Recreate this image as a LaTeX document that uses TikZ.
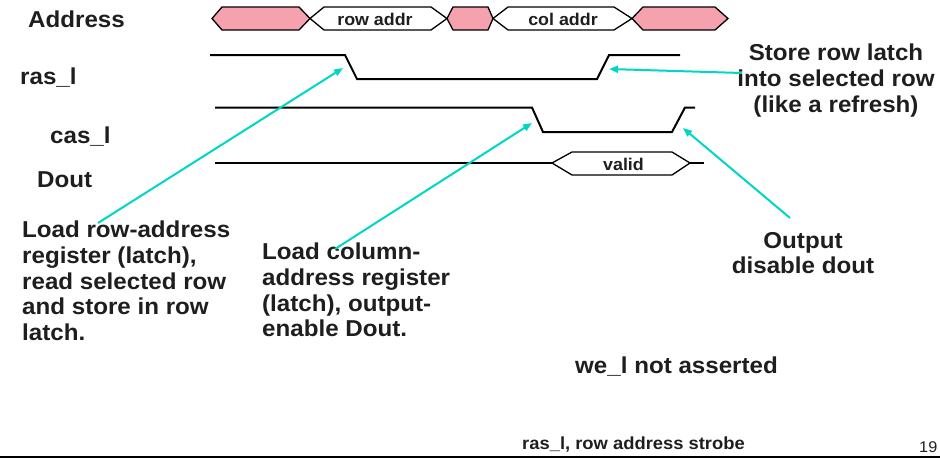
\documentclass[tikz,border=0pt]{standalone}
\usepackage{fontspec}
\setmainfont{Liberation Sans}[FakeStretch=1.05]
\usetikzlibrary{arrows.meta}
\definecolor{busfill}{RGB}{246,162,174}
\definecolor{callout}{RGB}{0,214,196}
\definecolor{ink}{RGB}{30,30,30}
\tikzset{
  sigline/.style={line width=2pt, line join=miter},
  busseg/.style={draw=black, line width=1.3pt, line join=miter, fill=white},
  busgap/.style={busseg, fill=busfill},
  lbl/.style={inner sep=0pt, text=ink, font=\fontsize{23}{25.7}\selectfont\bfseries},
  buslbl/.style={inner sep=0pt, text=ink, font=\fontsize{17}{18}\selectfont\bfseries},
  note/.style={lbl, anchor=north west, align=left},
  cnote/.style={lbl, anchor=north, align=center},
  footlbl/.style={inner sep=0pt, text=ink, anchor=base west},
  callarrow/.style={draw=callout, line width=2pt, -{Triangle[length=9pt,width=7pt]}},
}
\begin{document}
\begin{tikzpicture}[x=1pt, y=-1pt]
\useasboundingbox (0,0) rectangle (940,458);

% signal names
\node[lbl, anchor=base west] (addrlbl) at (28,27) {Address};
\node[lbl, anchor=base west] (raslbl) at (20,84) {ras\_l};
\node[lbl, anchor=base west] (caslbl) at (50,143) {cas\_l};
\node[lbl, anchor=base west] (doutlbl) at (37,187) {Dout};

% address bus
\draw[busgap] (212,18.5) -- (222,7) -- (299,7) -- (310,18.5) -- (299,30) -- (222,30) -- cycle;
\draw[busseg] (310,18.5) -- (324,7) -- (431,7) -- (447,18.5) -- (431,30) -- (324,30) -- cycle;
\draw[busgap] (447,18.5) -- (453,7) -- (488,7) -- (493,18.5) -- (488,30) -- (453,30) -- cycle;
\draw[busseg] (493,18.5) -- (508,7) -- (614,7) -- (632,18.5) -- (614,30) -- (508,30) -- cycle;
\draw[busgap] (632,18.5) -- (643,7) -- (715,7) -- (728,18.5) -- (715,30) -- (643,30) -- cycle;
\node[buslbl, anchor=base] (rowaddr) at (375,25) {row addr};
\node[buslbl, anchor=base] (coladdr) at (563,25) {col addr};

% ras_l
\draw[sigline] (210,55) -- (345,55) -- (357,79) -- (597,79) -- (609,55) -- (680,55);
% cas_l
\draw[sigline] (215,107.5) -- (532,107.5) -- (543,132) -- (672,132) -- (685,107.5) -- (695,107.5);
% Dout
\draw[sigline] (215,163) -- (552,163);
\draw[sigline] (690,163) -- (704,163);
\draw[busseg] (552,163) -- (572,152) -- (672,152) -- (690,163) -- (672,175) -- (572,175) -- cycle;
\node[buslbl, anchor=base] (validlbl) at (623.5,170) {valid};

% notes
\node[note] (rownote) at (22,221) {Load row-address\\register (latch),\\read selected row\\and store in row\\latch.};
\node[note] (colnote) at (262,243) {Load column-\\address register\\(latch), output-\\enable Dout.};
\node[cnote] (storenote) at (836,44) {Store row latch\\into selected row\\(like a refresh)};
\node[cnote] (disnote) at (803,232) {Output\\disable dout};
\node[lbl, anchor=base west] (welnote) at (575,373) {we\_l not asserted};

% call-out arrows
\coordinate (rowtail) at (98,223);
\coordinate (rasfall) at (343,68);
\coordinate (coltail) at (335,249);
\coordinate (casfall) at (532,123);
\coordinate (storetail) at (742,73);
\coordinate (rasrise) at (609,69);
\coordinate (distail) at (790,218);
\coordinate (casrise) at (683,128);
\draw[callarrow] (rowtail) -- (rasfall);
\draw[callarrow] (coltail) -- (casfall);
\draw[callarrow] (storetail) -- (rasrise);
\draw[callarrow] (distail) -- (casrise);

% footer
\node[footlbl, font=\fontsize{17.5}{19}\selectfont\bfseries] (footer) at (522,449) {ras\_l, row address strobe};
\node[footlbl, font=\fontsize{15.5}{17}\selectfont] (pagenum) at (919,452) {19};
\draw[line width=2.5pt] (0,456.8) -- (940,456.8);
\end{tikzpicture}
\end{document}
